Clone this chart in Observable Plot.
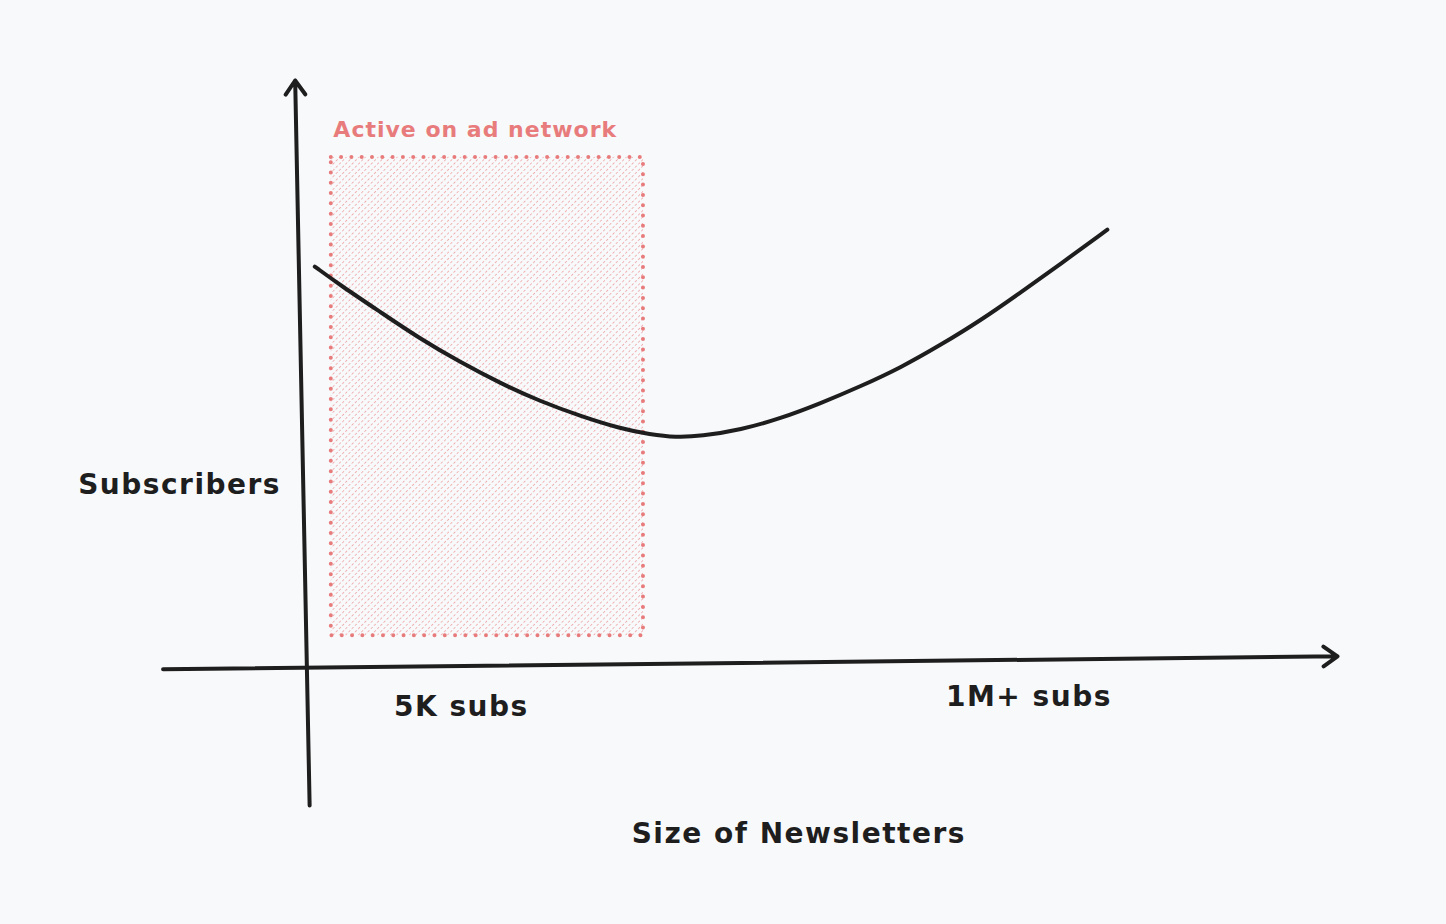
<!DOCTYPE html>
<html>
<head>
<meta charset="utf-8">
<script src="https://cdn.jsdelivr.net/npm/d3@7"></script>
<script src="https://cdn.jsdelivr.net/npm/@observablehq/plot@0.6"></script>
<style>
  html, body { margin: 0; padding: 0; background: #f8f9fb; }
  #chart svg { display: block; }
</style>
</head>
<body>
<div id="chart"></div>
<script>
// Curve: subscribers vs newsletter size (abstract units 0..100)
const curveX = [0.9, 3.4, 7.3, 11.1, 15.0, 18.9, 22.8, 26.7, 30.5, 33.4, 35.9, 38.3, 42.2, 46.0, 49.9, 53.8, 57.7, 61.5, 65.4, 69.3, 73.2, 77.7];
const curveY = [68.3, 65.1, 60.5, 56.0, 52.0, 48.4, 45.3, 42.8, 40.7, 39.7, 39.2, 39.4, 40.5, 42.4, 45.0, 47.9, 51.1, 54.9, 59.1, 63.9, 68.8, 74.6];

// Highlighted region: active on ad network
const regionX = [2.5, 32.75];
const regionY = [5.4, 86.9];
const regionLabel = "Active on ad network";

// Hand-drawn axes (start/end)
const axisX1 = [-13.8, 0.4];
const axisY1 = [-0.3, -23.5];
const axisX2 = [100, -1.0];
const axisY2 = [1.9, 100];

// Labels
const labelText = ["Subscribers", "5K subs", "1M+ subs", "Size of Newsletters"];
const labelX = [-12.2, 15.1, 70.1, 47.8];
const labelY = [31.0, -6.8, -5.1, -28.3];

const curve = curveX.map((x, i) => ({x, y: curveY[i]}));
const axes = axisX1.map((x1, i) => ({x1, y1: axisY1[i], x2: axisX2[i], y2: axisY2[i]}));
const labels = labelText.map((t, i) => ({t, x: labelX[i], y: labelY[i]}));
const region = [{x1: regionX[0], x2: regionX[1], y1: regionY[0], y2: regionY[1]}];

const ink = "#1e1e1e";
const pink = "#e87c7c";
const font = "'DejaVu Sans', sans-serif";

const chart = Plot.plot({
  width: 1446,
  height: 924,
  marginLeft: 305,
  marginRight: 109,
  marginTop: 80,
  marginBottom: 257,
  x: {domain: [0, 100], axis: null},
  y: {domain: [0, 100], axis: null},
  style: {background: "#f8f9fb", fontFamily: font},
  marks: [
    Plot.rect(region, {x1: "x1", x2: "x2", y1: "y1", y2: "y2", fill: "url(#hatch)", stroke: pink, strokeWidth: 4, strokeDasharray: "0 10.3", strokeLinecap: "round"}),
    Plot.text([regionLabel], {x: regionX[0] + 0.2, y: 91.5, text: d => d, textAnchor: "start", fill: pink, fontSize: 22, fontWeight: "bold", fontFamily: font}),
    Plot.arrow(axes, {x1: "x1", y1: "y1", x2: "x2", y2: "y2", stroke: ink, strokeWidth: 4, headLength: 6.4, headAngle: 70, strokeLinecap: "round", strokeLinejoin: "round"}),
    Plot.line(curve, {x: "x", y: "y", curve: "basis", stroke: ink, strokeWidth: 4, strokeLinecap: "round"}),
    Plot.text(labels, {x: "x", y: "y", text: "t", fill: ink, fontSize: 28, fontWeight: "bold", fontFamily: font})
  ]
});

const defs = d3.create("svg:defs");
const pat = defs.append("pattern")
  .attr("id", "hatch")
  .attr("patternUnits", "userSpaceOnUse")
  .attr("width", 4.5)
  .attr("height", 4.5)
  .attr("patternTransform", "rotate(45)");
pat.append("line")
  .attr("x1", 0).attr("y1", 0).attr("x2", 0).attr("y2", 4.5)
  .attr("stroke", pink).attr("stroke-opacity", 0.75).attr("stroke-width", 1.5)
  .attr("stroke-dasharray", "2.5 2");
chart.insertBefore(defs.node(), chart.firstChild);

d3.select(chart).selectAll("text").each(function() {
  this.setAttribute("letter-spacing", this.textContent === regionLabel ? "1px" : "1.5px");
});

document.getElementById("chart").append(chart);
</script>
</body>
</html>
